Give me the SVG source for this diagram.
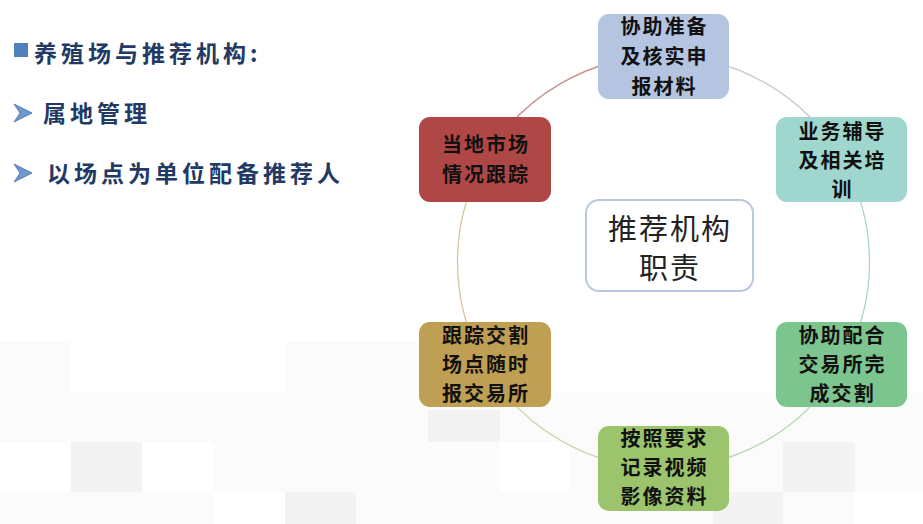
<svg xmlns="http://www.w3.org/2000/svg" width="923" height="524" viewBox="0 0 923 524">
<style>
.bg{fill:#f3f3f3}
.bg2{fill:#fbfbfb}
.arc{fill:none;stroke-width:1.3}
.nt{font-family:"Noto Sans CJK SC","Noto Sans CJK TC",sans-serif;font-size:20px;font-weight:bold;fill:#111;text-anchor:middle;letter-spacing:2px}
.ct{font-family:"Noto Sans CJK SC","Noto Sans CJK TC",sans-serif;font-size:29px;fill:#222;text-anchor:middle;letter-spacing:2px}
.lt{font-family:"Noto Sans CJK SC","Noto Sans CJK TC",sans-serif;font-size:23px;font-weight:bold;fill:#223a63;letter-spacing:4px}
</style>
<rect width="923" height="524" fill="#ffffff"/>
<g id="background">
<rect class="bg2" x="0" y="392" width="923" height="132"/>
<rect class="bg2" x="0" y="342" width="70" height="50"/>
<rect class="bg2" x="285" y="342" width="142" height="50"/>
<rect class="bg" x="71" y="442" width="71" height="50"/>
<rect class="bg" x="285" y="492" width="71" height="32"/>
<rect class="bg" x="428" y="410" width="72" height="32"/>
<rect class="bg" x="783" y="442" width="72" height="50"/>
<rect class="bg" x="713" y="492" width="70" height="32"/>
<rect fill="#ffffff" x="142" y="442" width="71" height="50"/>
<rect fill="#ffffff" x="0" y="442" width="70" height="50"/>
<rect fill="#ffffff" x="213" y="492" width="72" height="32"/>
<rect fill="#ffffff" x="500" y="442" width="70" height="50"/>
<rect fill="#ffffff" x="855" y="492" width="68" height="32"/>
</g>
<g id="connectors">
<path class="arc" stroke="#d2c3d6" d="M663.5 56 A206 206 0 0 1 841.9 159"/>
<path class="arc" stroke="#a9d5cf" d="M841.9 159 A206 206 0 0 1 841.9 365"/>
<path class="arc" stroke="#b3d8b0" d="M841.9 365 A206 206 0 0 1 663.5 468"/>
<path class="arc" stroke="#cbd6ab" d="M663.5 468 A206 206 0 0 1 485.1 365"/>
<path class="arc" stroke="#d6c49c" d="M485.1 365 A206 206 0 0 1 485.1 159"/>
<path class="arc" stroke="#c98c89" d="M485.1 159 A206 206 0 0 1 663.5 56"/>
</g>
<g id="left-text">
<rect x="14" y="43" width="14" height="14" fill="#4f81bd"/>
<text class="lt" x="34" y="62">养殖场与推荐机构:</text>
<path d="M14 104 L32 113 L14 122 L20 113 Z" fill="#6f97cc" stroke="#3f6ea8" stroke-width="0.8"/>
<text class="lt" x="43" y="122">属地管理</text>
<path d="M14 164 L32 173 L14 182 L20 173 Z" fill="#6f97cc" stroke="#3f6ea8" stroke-width="0.8"/>
<text class="lt" x="47" y="182">以场点为单位配备推荐人</text>
</g>
<g id="center">
<rect x="586" y="200" width="167" height="91" rx="13" fill="#ffffff" stroke="#b9c7e2" stroke-width="2"/>
<text class="ct" x="670" y="240">推荐机构</text>
<text class="ct" x="670" y="279">职责</text>
</g>
<g id="node-top">
<rect x="598" y="14" width="131" height="85" rx="11" fill="#b4c4e1"/>
<text class="nt" x="664.5" y="34">协助准备</text>
<text class="nt" x="664.5" y="64">及核实申</text>
<text class="nt" x="664.5" y="94">报材料</text>
</g>
<g id="node-right-top">
<rect x="776" y="117" width="131" height="85" rx="11" fill="#9fd6cd"/>
<text class="nt" x="842.5" y="139">业务辅导</text>
<text class="nt" x="842.5" y="168">及相关培</text>
<text class="nt" x="842.5" y="197">训</text>
</g>
<g id="node-right-bottom">
<rect x="776" y="322" width="131" height="85" rx="11" fill="#7dc58e"/>
<text class="nt" x="842.5" y="343">协助配合</text>
<text class="nt" x="842.5" y="372">交易所完</text>
<text class="nt" x="842.5" y="401">成交割</text>
</g>
<g id="node-bottom">
<rect x="598" y="426" width="131" height="85" rx="11" fill="#9bc46c"/>
<text class="nt" x="664.5" y="446">按照要求</text>
<text class="nt" x="664.5" y="475">记录视频</text>
<text class="nt" x="664.5" y="504">影像资料</text>
</g>
<g id="node-left-bottom">
<rect x="419" y="322" width="132" height="85" rx="11" fill="#bf9f53"/>
<text class="nt" x="486" y="343">跟踪交割</text>
<text class="nt" x="486" y="372">场点随时</text>
<text class="nt" x="486" y="401">报交易所</text>
</g>
<g id="node-left-top">
<rect x="419" y="117" width="132" height="85" rx="11" fill="#b04747"/>
<text class="nt" x="486" y="152">当地市场</text>
<text class="nt" x="486" y="182">情况跟踪</text>
</g>
</svg>
